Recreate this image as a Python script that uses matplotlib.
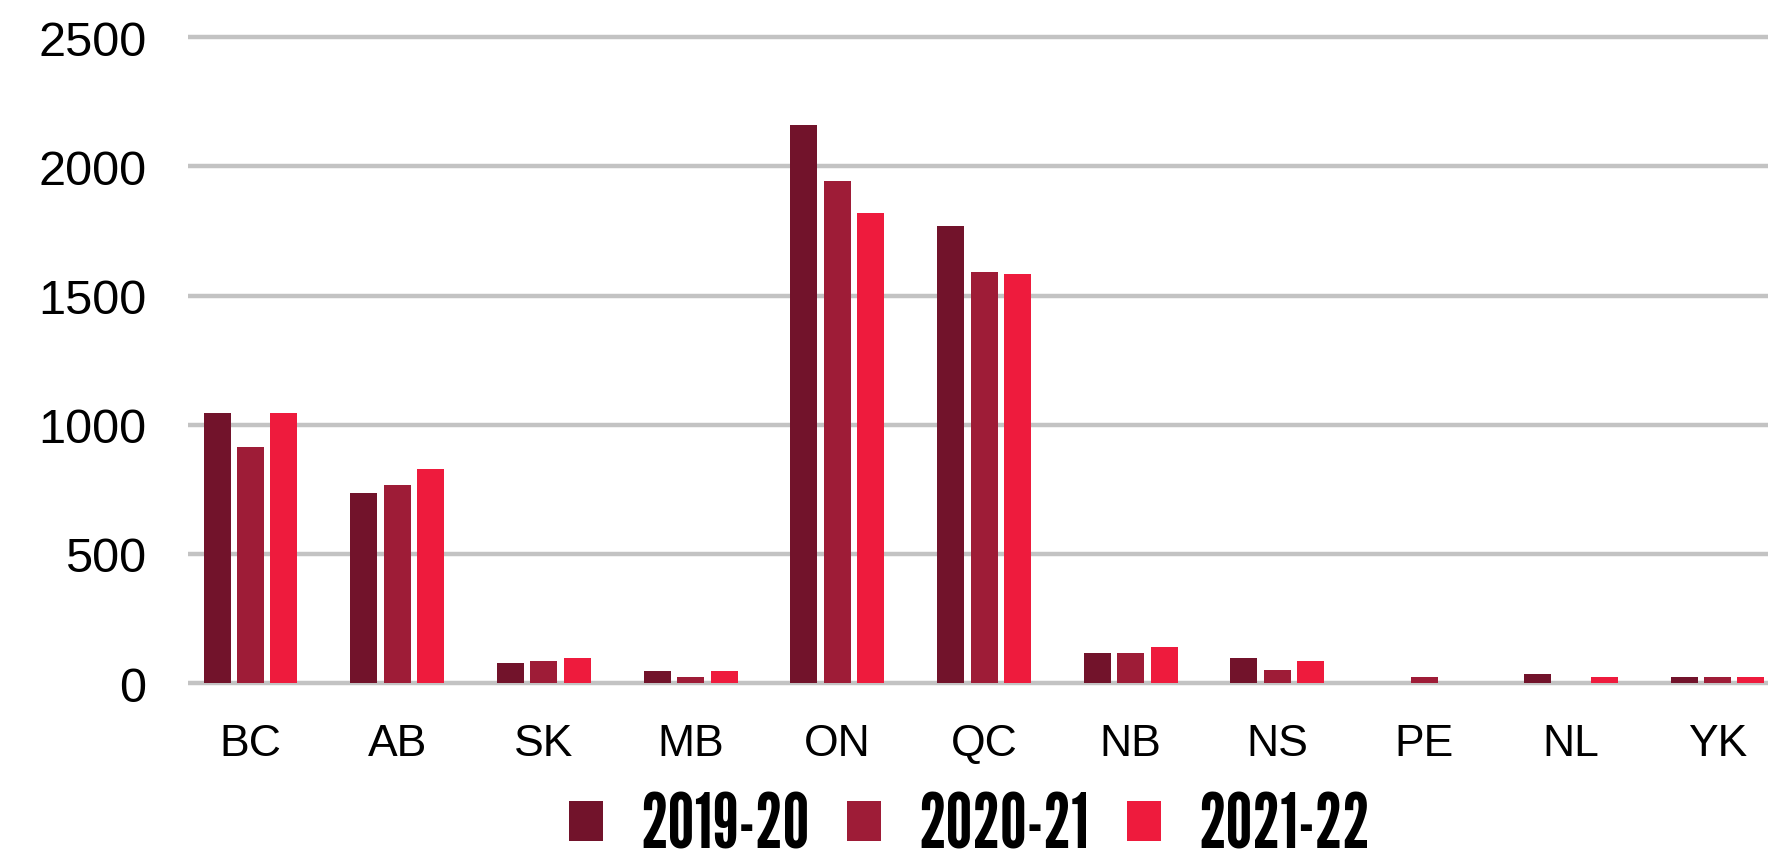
import numpy as np
from matplotlib import pyplot as plt
from matplotlib.font_manager import FontProperties
from matplotlib.textpath import TextPath

# Provinces / territories
provinces = ["BC", "AB", "SK", "MB", "ON", "QC", "NB", "NS", "PE", "NL", "YK"]

# Values per fiscal year
years = ["2019-20", "2020-21", "2021-22"]
v_2019_20 = [1045, 735, 78, 45, 2160, 1770, 115, 97, 0, 35, 22]
v_2020_21 = [915, 765, 85, 25, 1945, 1592, 115, 50, 22, 0, 22]
v_2021_22 = [1045, 830, 97, 45, 1820, 1585, 140, 85, 0, 22, 22]
colors = ["#72132b", "#9e1c37", "#ee1b3d"]

plt.rcParams["font.family"] = ["Liberation Sans", "DejaVu Sans"]

fig = plt.figure(figsize=(17.68, 8.62), dpi=100)
ax = fig.add_axes([188 / 1768, 1 - 690.5 / 862, 1 - 188 / 1768, (690.5 - 30.5) / 862])

x = np.arange(len(provinces))
step = 0.228  # distance between bars in a group
width = 0.184
for i, (vals, label, c) in enumerate(zip([v_2019_20, v_2020_21, v_2021_22], years, colors)):
    ax.bar(x + (i - 1) * step, vals, width, color=c, label=label, zorder=3)

ax.set_xlim(-0.426, 10.344)
ax.set_ylim(-25, 2530)
ax.set_yticks([0, 500, 1000, 1500, 2000, 2500])
ax.set_xticks(x)
ax.set_xticklabels(provinces)
ax.grid(axis="y", color="#c3c3c3", linewidth=3.2, zorder=1)
ax.tick_params(axis="y", length=0, pad=30, labelsize=35)
ax.tick_params(axis="x", length=0, pad=24, labelsize=32)
for s in ax.spines.values():
    s.set_visible(False)

# Legend in a tall condensed face; size it so the digits are ~57 px high
leg_font = FontProperties(family=["League Gothic", "Antonio", "DejaVu Sans"])
glyph_h = TextPath((0, 0), years[0], size=100, prop=leg_font).get_extents().height
leg_fs = 57 * 72 / 100 * 100 / glyph_h
leg_font.set_size(leg_fs)
fpx = leg_fs * 100 / 72

fig.legend(loc="center left", bbox_to_anchor=(569 / 1768, 1 - 828 / 862), ncol=3, frameon=False,
           prop=leg_font, handlelength=34 / fpx, handleheight=34 / fpx, handletextpad=37 / fpx,
           columnspacing=38 / fpx, borderpad=0, borderaxespad=0)

fig.savefig("out.png", dpi=100)
